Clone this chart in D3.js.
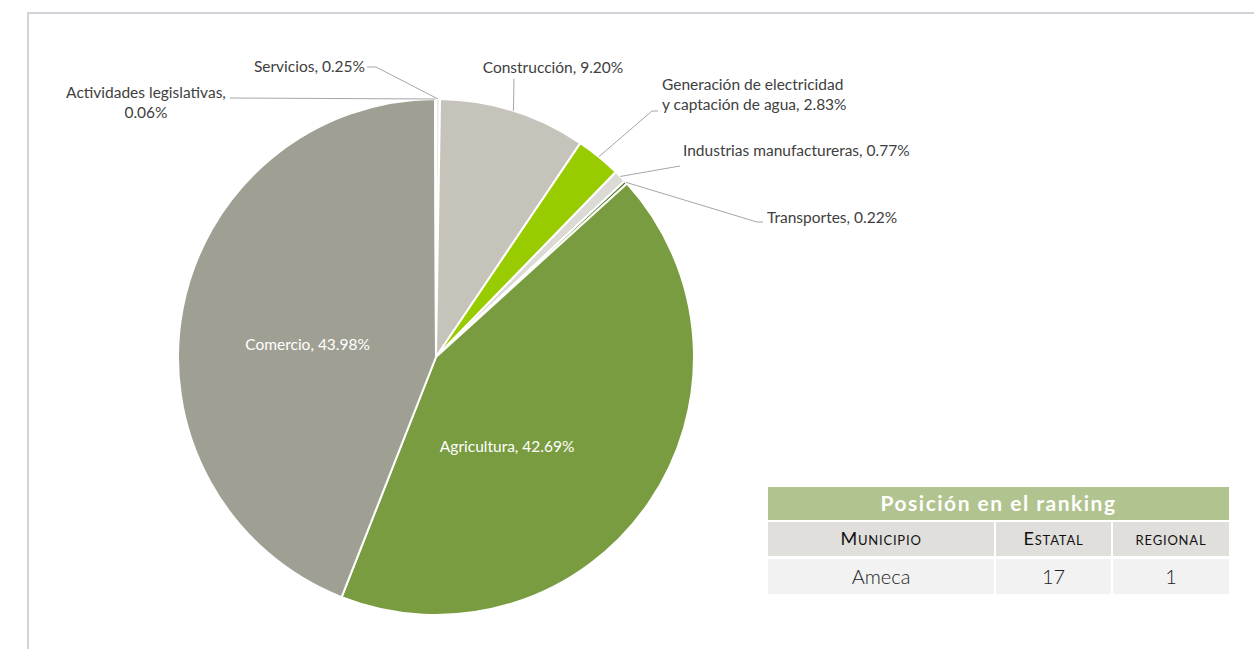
<!DOCTYPE html>
<html lang="es">
<head>
<meta charset="utf-8">
<title>Ameca - distribución por sector</title>
<script src="https://cdn.jsdelivr.net/npm/d3@7"></script>
<style>
  body { margin: 0; background: #fff; }
  svg text { font-family: Lato, "Open Sans", sans-serif; }
</style>
</head>
<body>
<script>
// Datos
var sectores = ["Servicios", "Construcción", "Generación de electricidad y captación de agua",
                "Industrias manufactureras", "Transportes", "Agricultura", "Comercio",
                "Actividades legislativas"];
var porcentajes = [0.25, 9.20, 2.83, 0.77, 0.22, 42.69, 43.98, 0.06];
var colores = ["#eeece7", "#c6c3bb", "#99cc00", "#dcdad5", "#4f7a22", "#7a9c41", "#9fa093", "#6e705f"];

var rankingTitulo = "Posición en el ranking";
var rankingColumnas = ["Municipio", "Estatal", "regional"];
var rankingValores = ["Ameca", "17", "1"];

var w = 1254, h = 649;
var cx = 436, cy = 357, r = 258;
var fs = 15.5;

var svg = d3.select("body").append("svg")
  .attr("width", w).attr("height", h);

// Marco
svg.append("path")
  .attr("d", "M28," + h + "V13H" + w)
  .attr("fill", "none")
  .attr("stroke", "#d0d4d8")
  .attr("stroke-width", 2);

var pie = d3.pie().sort(null).value(function(d) { return d.v; });
var datos = sectores.map(function(s, i) { return { nombre: s, v: porcentajes[i], color: colores[i] }; });
var arcs = pie(datos);
var arc = d3.arc().innerRadius(0).outerRadius(r);

var g = svg.append("g").attr("transform", "translate(" + cx + "," + cy + ")");

g.selectAll("path.slice")
  .data(arcs)
  .enter()
  .append("path")
  .attr("class", "slice")
  .attr("d", arc)
  .attr("fill", function(d) { return d.data.color; })
  .attr("stroke", "#fff")
  .attr("stroke-width", 2)
  .attr("stroke-linejoin", "round");

function fmt(v) { return v.toFixed(2) + "%"; }

// Etiquetas internas (ángulo en grados desde las 12 en punto, radio)
var internas = {
  "Agricultura": { ang: 141.4, rad: 114 },
  "Comercio": { ang: 275.4, rad: 129 }
};
arcs.forEach(function(d) {
  var p = internas[d.data.nombre];
  if (!p) return;
  var a = p.ang * Math.PI / 180;
  g.append("text")
    .attr("x", p.rad * Math.sin(a))
    .attr("y", -p.rad * Math.cos(a))
    .attr("dy", "0.35em")
    .attr("text-anchor", "middle")
    .attr("fill", "#fff")
    .attr("font-size", fs)
    .text(d.data.nombre + ", " + fmt(d.data.v));
});

// Etiquetas externas: texto, anclaje y codo del conector (coordenadas de página)
var externas = {
  "Servicios": { lines: ["Servicios, 0.25%"], x: 365, y: 72, anchor: "end", elbow: [[367, 67], [376, 67]] },
  "Construcción": { lines: ["Construcción, 9.20%"], x: 553, y: 73, anchor: "middle", elbow: [[514, 79]] },
  "Generación de electricidad y captación de agua": {
    lines: ["Generación de electricidad", "y captación de agua, 2.83%"], x: 662, y: 90, anchor: "start",
    elbow: [[658, 111], [652, 111]] },
  "Industrias manufactureras": { lines: ["Industrias manufactureras, 0.77%"], x: 683, y: 156, anchor: "start",
    elbow: [[680, 166]] },
  "Transportes": { lines: ["Transportes, 0.22%"], x: 767, y: 223, anchor: "start", elbow: [[763, 222], [757, 222]] },
  "Actividades legislativas": { lines: ["Actividades legislativas,", "0.06%"], x: 146, y: 98, anchor: "middle",
    elbow: [[230, 98]] }
};

arcs.forEach(function(d) {
  var p = externas[d.data.nombre];
  if (!p) return;
  var mid = (d.startAngle + d.endAngle) / 2;
  var ex = cx + r * Math.sin(mid), ey = cy - r * Math.cos(mid);
  var pts = p.elbow.concat([[ex, ey]]);
  svg.append("path")
    .attr("d", d3.line()(pts))
    .attr("fill", "none")
    .attr("stroke", "#a6a6a6")
    .attr("stroke-width", 1);
  var t = svg.append("text")
    .attr("x", p.x).attr("y", p.y)
    .attr("text-anchor", p.anchor)
    .attr("fill", "#404040")
    .attr("font-size", fs);
  p.lines.forEach(function(l, i) {
    t.append("tspan").attr("x", p.x).attr("dy", i === 0 ? 0 : 20).text(l);
  });
});

// Tabla de ranking
var tx = 768, tw = 461;
var colX = [768, 996, 1113, 1231];
var tab = svg.append("g").attr("class", "ranking");
tab.append("rect").attr("x", tx).attr("y", 487).attr("width", tw).attr("height", 33).attr("fill", "#b1c38e");
tab.append("text")
  .attr("x", tx + tw / 2).attr("y", 511)
  .attr("text-anchor", "middle")
  .attr("fill", "#fff")
  .attr("font-weight", "bold")
  .attr("font-size", 21)
  .attr("letter-spacing", 1.5)
  .text(rankingTitulo);

rankingColumnas.forEach(function(c, i) {
  var x0 = colX[i], x1 = colX[i + 1] - 2;
  tab.append("rect").attr("x", x0).attr("y", 522).attr("width", x1 - x0).attr("height", 34).attr("fill", "#e0dfdc");
  tab.append("text")
    .attr("x", (x0 + x1) / 2).attr("y", 545)
    .attr("text-anchor", "middle")
    .attr("fill", "#111")
    .attr("font-size", 18)
    .attr("letter-spacing", 0.8)
    .style("font-variant", "small-caps")
    .text(c);
  tab.append("rect").attr("x", x0).attr("y", 559).attr("width", x1 - x0).attr("height", 35).attr("fill", "#f2f2f2");
  tab.append("text")
    .attr("x", (x0 + x1) / 2).attr("y", 584)
    .attr("text-anchor", "middle")
    .attr("fill", "#222")
    .attr("font-size", 20)
    .attr("font-weight", 300)
    .text(rankingValores[i]);
});
</script>
</body>
</html>
